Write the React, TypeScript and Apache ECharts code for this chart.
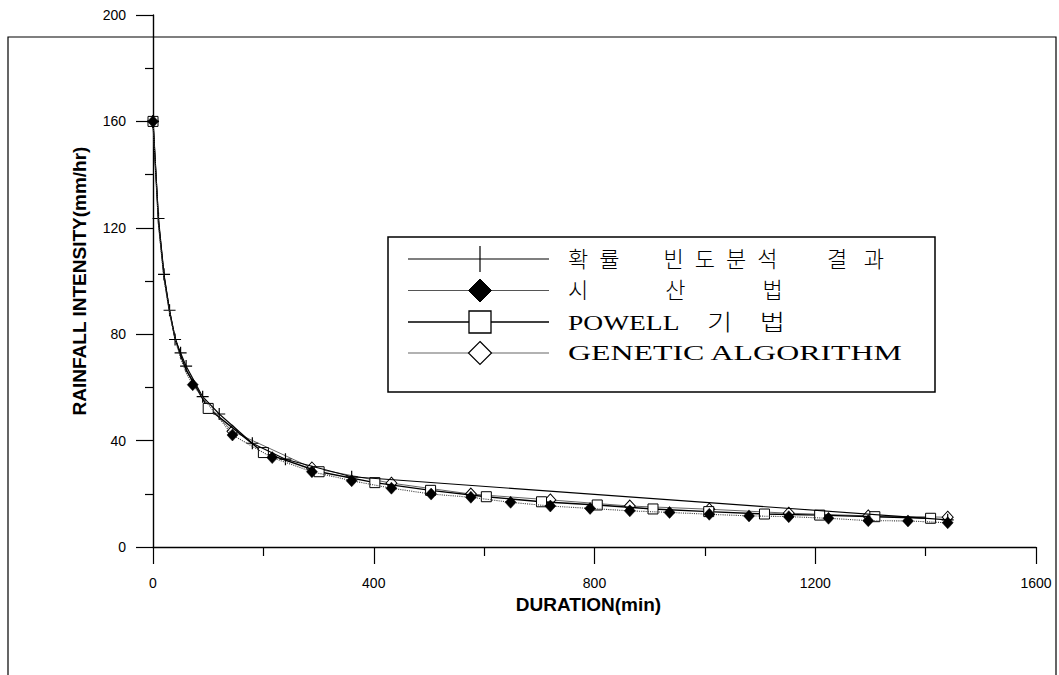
import React, { useEffect, useRef } from 'react';
import * as echarts from 'echarts';

// ---- data ----
const seriesNames = ['확률 빈도분석 결과', '시산법', 'POWELL 기법', 'GENETIC ALGORITHM'];

// probability frequency analysis result (+ markers)
const freqDuration = [0, 10, 20, 30, 40, 50, 60, 90, 120, 180, 240, 360, 1440];
const freqIntensity = [160, 123.5, 102.5, 89, 78, 73, 68, 56.5, 50, 39, 33, 26.4, 10.2];

// trial-and-error method (filled diamonds)
const trialDuration = [0, 10, 20, 30, 40, 50, 60, 72, 144, 216, 288, 360, 432, 504, 576, 648, 720, 792, 864, 936, 1008, 1080, 1152, 1224, 1296, 1368, 1440];
const trialIntensity = [160, 121, 100.5, 88, 78, 71, 65.5, 61, 42.1, 33.6, 28.3, 24.9, 22.1, 19.9, 18.7, 16.8, 15.4, 14.5, 13.6, 13.0, 12.3, 11.7, 11.4, 10.8, 9.9, 9.8, 9.1];
const trialFirstMark = 72;

// POWELL method (open squares)
const powellDuration = [0, 10, 20, 30, 40, 50, 60, 100, 200, 301, 402, 503, 604, 704, 805, 906, 1007, 1108, 1208, 1308, 1409];
const powellIntensity = [160, 122, 101.5, 88.5, 78.5, 72, 66.5, 52.1, 35.5, 28.3, 24.2, 21.3, 18.9, 17.0, 15.8, 14.3, 13.3, 12.4, 12.0, 11.4, 10.8];
const powellFirstMark = 100;

// genetic algorithm (open diamonds)
const gaDuration = [0, 10, 20, 30, 40, 50, 60, 90, 120, 144, 288, 432, 576, 720, 864, 1008, 1152, 1296, 1440];
const gaIntensity = [160, 122.5, 102, 89, 79, 72.5, 67, 56, 48.5, 43.5, 29.7, 24, 19.9, 17.7, 15.4, 14.2, 12.7, 11.7, 11.2];
const gaFirstMark = 144;

const PLUS = 'path://M0,4.5H4.5V0H5.5V4.5H10V5.5H5.5V10H4.5V5.5H0Z';

const NB = '\u00A0';
// legend labels as laid out (justified) in the reference
const legendLabels = [
  `확${NB.repeat(2)}률${NB.repeat(8)}빈${NB.repeat(2)}도${NB.repeat(2)}분${NB.repeat(2)}석${NB.repeat(9)}결${NB.repeat(3)}과`,
  `시${NB.repeat(14)}산${NB.repeat(14)}법`,
  `POWELL${NB.repeat(4)}기${NB.repeat(4)}법`,
  'GENETIC ALGORITHM',
];

function toData(dur: number[], val: number[], firstMark: number) {
  return dur.map((d, i) =>
    d > 0 && d < firstMark ? { value: [d, val[i]], symbol: 'none' } : { value: [d, val[i]] }
  );
}

export default function App() {
  const ref = useRef<HTMLDivElement>(null);

  useEffect(() => {
    const chart = echarts.init(ref.current!, null, { renderer: 'svg' });

    const serifFont = "'Liberation Serif', 'Noto Sans CJK KR', serif";
    const sansFont = "'Liberation Sans', Arial, sans-serif";

    const rowsY = [259, 290.5, 322, 353];
    const lineX0 = 408;
    const lineX1 = 549;
    const mx = 480;
    const textX = 568;
    const textScale = [1, 1, 1.25, 1.45];

    const legendEls: any[] = [
      {
        type: 'rect',
        shape: { x: 388, y: 237, width: 547, height: 155 },
        style: { fill: '#fff', stroke: '#000', lineWidth: 1.5 },
        z: 100,
      },
    ];
    const legendLine = [
      { stroke: '#000', lineWidth: 1.2 },
      { stroke: '#555', lineWidth: 1.2 },
      { stroke: '#000', lineWidth: 1.6 },
      { stroke: '#666', lineWidth: 1.2 },
    ];
    rowsY.forEach((y, i) => {
      legendEls.push({
        type: 'line',
        shape: { x1: lineX0, y1: y, x2: lineX1, y2: y },
        style: legendLine[i],
        z: 101,
      });
      legendEls.push({
        type: 'text',
        x: textX,
        y: y,
        scaleX: textScale[i],
        style: {
          text: legendLabels[i],
          x: 0,
          y: 0,
          fontSize: 22,
          fontWeight: 300,
          fontFamily: serifFont,
          fill: '#000',
          verticalAlign: 'middle',
          align: 'left',
        },
        z: 101,
      });
    });
    // legend markers
    legendEls.push({
      type: 'line',
      shape: { x1: mx, y1: rowsY[0] - 13, x2: mx, y2: rowsY[0] + 13 },
      style: { stroke: '#000', lineWidth: 1.2 },
      z: 102,
    });
    legendEls.push({
      type: 'polygon',
      shape: { points: [[mx, rowsY[1] - 11.5], [mx + 11.5, rowsY[1]], [mx, rowsY[1] + 11.5], [mx - 11.5, rowsY[1]]] },
      style: { fill: '#000', stroke: '#000', lineWidth: 1 },
      z: 102,
    });
    legendEls.push({
      type: 'rect',
      shape: { x: mx - 11, y: rowsY[2] - 11, width: 22, height: 22 },
      style: { fill: '#fff', stroke: '#000', lineWidth: 1.3 },
      z: 102,
    });
    legendEls.push({
      type: 'polygon',
      shape: { points: [[mx, rowsY[3] - 11.5], [mx + 11.5, rowsY[3]], [mx, rowsY[3] + 11.5], [mx - 11.5, rowsY[3]]] },
      style: { fill: '#fff', stroke: '#000', lineWidth: 1.2 },
      z: 102,
    });

    const option: any = {
      animation: false,
      backgroundColor: '#fff',
      grid: { left: 153, right: 23, top: 15, bottom: 128, containLabel: false },
      xAxis: {
        type: 'value',
        min: 0,
        max: 1600,
        interval: 400,
        name: 'DURATION(min)',
        nameLocation: 'middle',
        nameGap: 48,
        nameTextStyle: { fontFamily: sansFont, fontWeight: 'bold', fontSize: 19, color: '#000', padding: [0, 12, 0, 0] },
        axisLine: { show: true, lineStyle: { color: '#000', width: 1.4 } },
        axisTick: { show: true, inside: false, length: 17, lineStyle: { color: '#000', width: 1.2 } },
        minorTick: { show: true, splitNumber: 2, length: 9, lineStyle: { color: '#000', width: 1.2 } },
        axisLabel: {
          margin: 29,
          fontFamily: sansFont,
          fontSize: 14,
          color: '#000',
          formatter: (v: number) => String(v),
        },
        splitLine: { show: false },
      },
      yAxis: {
        type: 'value',
        min: 0,
        max: 200,
        interval: 40,
        name: 'RAINFALL INTENSITY(mm/hr)',
        nameLocation: 'middle',
        nameGap: 64,
        nameTextStyle: { fontFamily: sansFont, fontWeight: 'bold', fontSize: 19, color: '#000' },
        axisLine: { show: true, onZero: false, lineStyle: { color: '#000', width: 1.4 } },
        axisTick: { show: true, inside: false, length: 17, lineStyle: { color: '#000', width: 1.2 } },
        minorTick: { show: true, splitNumber: 2, length: 8, lineStyle: { color: '#000', width: 1.2 } },
        axisLabel: {
          margin: 27,
          fontFamily: sansFont,
          fontSize: 14,
          color: '#000',
          formatter: (v: number) => String(v),
        },
        splitLine: { show: false },
      },
      series: [
        {
          name: seriesNames[3],
          type: 'line',
          data: toData(gaDuration, gaIntensity, gaFirstMark),
          symbol: 'diamond',
          symbolSize: [11, 12],
          itemStyle: { color: '#fff', borderColor: '#000', borderWidth: 1 },
          lineStyle: { color: '#666', width: 1 },
          z: 2,
        },
        {
          name: seriesNames[2],
          type: 'line',
          data: toData(powellDuration, powellIntensity, powellFirstMark),
          symbol: 'rect',
          symbolSize: 10,
          itemStyle: { color: '#fff', borderColor: '#000', borderWidth: 1 },
          lineStyle: { color: '#000', width: 1.4 },
          z: 3,
        },
        {
          name: seriesNames[0],
          type: 'line',
          data: freqDuration.map((d, i) => [d, freqIntensity[i]]),
          symbol: PLUS,
          symbolSize: 12,
          itemStyle: { color: '#000' },
          lineStyle: { color: '#000', width: 1.1 },
          z: 4,
        },
        {
          name: seriesNames[1],
          type: 'line',
          data: toData(trialDuration, trialIntensity, trialFirstMark),
          symbol: 'diamond',
          symbolSize: [11, 12],
          itemStyle: { color: '#000', borderColor: '#000', borderWidth: 0.5 },
          lineStyle: { color: '#444', width: 1.1, type: 'dotted' },
          z: 5,
        },
      ],
      graphic: [
        {
          type: 'rect',
          shape: { x: 8, y: 37, width: 1048, height: 660 },
          style: { fill: 'none', stroke: '#000', lineWidth: 1.2 },
          silent: true,
          z: -10,
        },
        ...legendEls,
      ],
    };

    chart.setOption(option);
    return () => chart.dispose();
  }, []);

  return (
    <div
      ref={ref}
      style={{ position: 'fixed', left: 0, top: 0, width: 1059, height: 675, background: '#fff' }}
    />
  );
}
